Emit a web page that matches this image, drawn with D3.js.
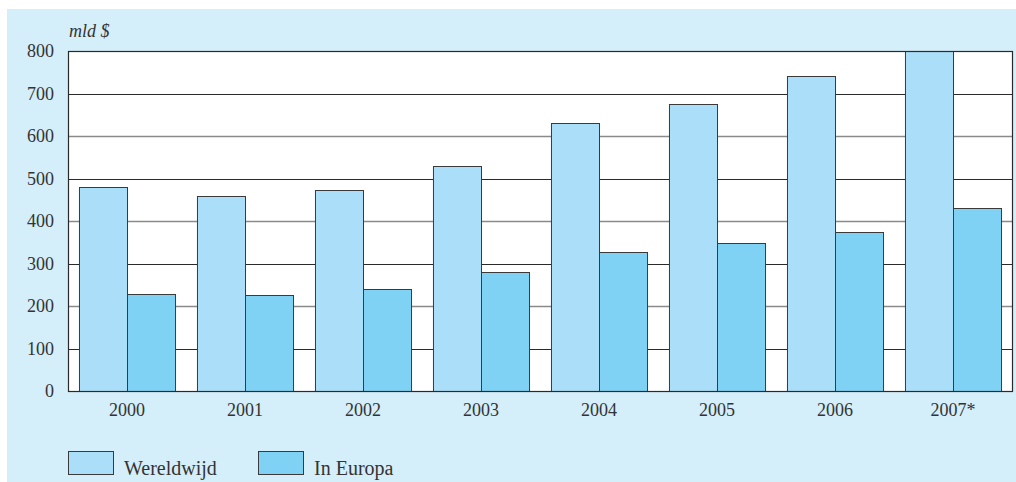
<!DOCTYPE html>
<html>
<head>
<meta charset="utf-8">
<script src="https://cdn.jsdelivr.net/npm/d3@7"></script>
<style>
  body { margin: 0; background: #fff; }
  svg text { font-family: 'Liberation Serif', 'Times New Roman', serif; fill: #333; }
</style>
</head>
<body>
<div id="viz"></div>
<script>
const width = 1016;
const height = 482;
const margin = {top: 51, right: 4, bottom: 91, left: 68};

// Data (mld $)
const years = ['2000', '2001', '2002', '2003', '2004', '2005', '2006', '2007*'];
const wereldwijd = [479, 459, 472, 530, 631, 676, 740, 799];
const inEuropa = [228, 225, 240, 281, 327, 349, 375, 431];
const seriesNames = ['Wereldwijd', 'In Europa'];
const yTicks = [0, 100, 200, 300, 400, 500, 600, 700, 800];

const colorWorld = '#abdff9';
const colorEurope = '#80d2f5';
const colorPanel = '#d4eefa';

const svg = d3.select('#viz')
  .append('svg')
    .attr('width', width)
    .attr('height', height);

// light blue panel
svg.append('rect')
  .attr('x', 7).attr('y', 9)
  .attr('width', width - 7).attr('height', height - 9)
  .attr('fill', colorPanel);

const xScale = d3.scaleBand()
  .domain(years)
  .range([margin.left, width - margin.right])
  .paddingInner(0.186)
  .paddingOuter(0.093);

const xSub = d3.scaleBand()
  .domain(seriesNames)
  .range([0, xScale.bandwidth()]);

const yScale = d3.scaleLinear()
  .domain([0, 800])
  .range([height - margin.bottom, margin.top]);

// white plot area
svg.append('rect')
  .attr('x', margin.left)
  .attr('y', margin.top)
  .attr('width', width - margin.right - margin.left)
  .attr('height', height - margin.bottom - margin.top)
  .attr('fill', '#fff');

// gridlines, alternating dark / grey like the original
svg.append('g')
  .selectAll('line')
  .data(yTicks.filter(d => d > 0 && d < 800))
  .join('line')
    .attr('x1', margin.left)
    .attr('x2', width - margin.right)
    .attr('y1', d => Math.round(yScale(d)) + 0.5)
    .attr('y2', d => Math.round(yScale(d)) + 0.5)
    .attr('stroke', d => (d / 100) % 2 === 1 ? '#2a2a2a' : '#8a8a8a')
    .attr('stroke-width', d => (d / 100) % 2 === 1 ? 1 : 1.4);

// bars
const rows = years.map((y, i) => ({year: y, values: [
  {name: 'Wereldwijd', value: wereldwijd[i]},
  {name: 'In Europa', value: inEuropa[i]}
]}));

svg.append('g')
  .selectAll('g')
  .data(rows)
  .join('g')
    .attr('transform', d => `translate(${xScale(d.year)},0)`)
  .selectAll('rect')
  .data(d => d.values)
  .join('rect')
    .attr('x', d => xSub(d.name) + 0.5)
    .attr('y', d => Math.round(yScale(d.value)) + 0.5)
    .attr('width', xSub.bandwidth())
    .attr('height', d => Math.round(yScale(0)) - Math.round(yScale(d.value)))
    .attr('fill', d => d.name === 'Wereldwijd' ? colorWorld : colorEurope)
    .attr('stroke', '#3a3a3a')
    .attr('stroke-width', 1);

// plot frame
svg.append('rect')
  .attr('x', margin.left + 0.5)
  .attr('y', margin.top + 0.5)
  .attr('width', width - margin.right - margin.left)
  .attr('height', height - margin.bottom - margin.top)
  .attr('fill', 'none')
  .attr('stroke', '#2a2a2a')
  .attr('stroke-width', 1.2);

// y axis labels
svg.append('g')
  .selectAll('text')
  .data(yTicks)
  .join('text')
    .attr('x', 54)
    .attr('y', d => yScale(d) + 6)
    .attr('text-anchor', 'end')
    .style('font-size', '18px')
    .text(d => d);

// unit label
svg.append('text')
  .attr('x', 69)
  .attr('y', 37)
  .style('font-size', '18px')
  .style('font-style', 'italic')
  .text('mld $');

// x axis labels
svg.append('g')
  .selectAll('text')
  .data(years)
  .join('text')
    .attr('x', d => xScale(d) + xScale.bandwidth() / 2)
    .attr('y', 416)
    .attr('text-anchor', 'middle')
    .style('font-size', '18px')
    .text(d => d);

// legend
const legendX = [68, 258];
const legend = svg.append('g')
  .selectAll('g')
  .data(seriesNames)
  .join('g')
    .attr('transform', (d, i) => `translate(${legendX[i]},451)`);
legend.append('rect')
  .attr('x', 0.5).attr('y', 0.5)
  .attr('width', 45).attr('height', 23)
  .attr('fill', d => d === 'Wereldwijd' ? colorWorld : colorEurope)
  .attr('stroke', '#3a3a3a');
legend.append('text')
  .attr('x', 56)
  .attr('y', 24)
  .style('font-size', '20px')
  .text(d => d);
</script>
</body>
</html>
